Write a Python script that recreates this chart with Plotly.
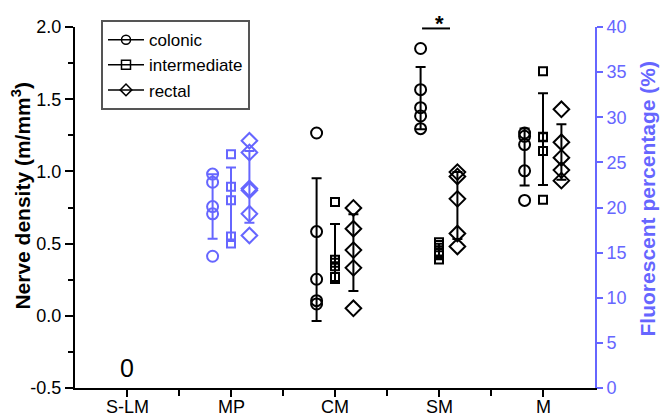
import numpy as np
import plotly.graph_objects as go

categories = ["S-LM", "MP", "CM", "SM", "M"]
series = ["colonic", "intermediate", "rectal"]
left_ticks = [-0.5, 0.0, 0.5, 1.0, 1.5, 2.0]
left_tick_labels = ["-0.5", "0.0", "0.5", "1.0", "1.5", "2.0"]

# MP values are fluorescent percentage (%) on the right axis
mp_colonic = [23.7, 22.8, 20.1, 19.3, 14.6]
mp_intermediate = [25.9, 22.3, 20.8, 16.8, 16.0]
mp_rectal = [27.4, 26.1, 22.1, 21.9, 19.3, 16.9]

# Nerve density (m/mm^3) on the left axis
cm_colonic = [1.266, 0.583, 0.253, 0.105, 0.082]
cm_intermediate = [0.788, 0.389, 0.367, 0.344, 0.269]
cm_rectal = [0.747, 0.603, 0.455, 0.332, 0.052]
sm_colonic = [1.851, 1.566, 1.441, 1.384, 1.296]
sm_intermediate = [0.51, 0.49, 0.44, 0.42, 0.39]
sm_rectal = [0.995, 0.965, 0.81, 0.57, 0.48]
m_colonic = [1.266, 1.243, 1.186, 1.004, 0.799]
m_intermediate = [1.694, 1.24, 1.236, 1.141, 0.804]
m_rectal = [1.430, 1.202, 1.095, 1.009, 0.936]

slm_label = "0"

BLUE = "#6666ff"
BLACK = "#000000"
FONT = "Liberation Sans, Arial, sans-serif"

symbols = {"colonic": "circle-open", "intermediate": "square-open", "rectal": "diamond-open"}
sizes = {"colonic": 11, "intermediate": 8, "rectal": 12}
offsets = {"colonic": -0.177, "intermediate": 0.0, "rectal": 0.177}

groups = [
    ("MP", "colonic", mp_colonic, "y2", BLUE),
    ("MP", "intermediate", mp_intermediate, "y2", BLUE),
    ("MP", "rectal", mp_rectal, "y2", BLUE),
    ("CM", "colonic", cm_colonic, "y", BLACK),
    ("CM", "intermediate", cm_intermediate, "y", BLACK),
    ("CM", "rectal", cm_rectal, "y", BLACK),
    ("SM", "colonic", sm_colonic, "y", BLACK),
    ("SM", "intermediate", sm_intermediate, "y", BLACK),
    ("SM", "rectal", sm_rectal, "y", BLACK),
    ("M", "colonic", m_colonic, "y", BLACK),
    ("M", "intermediate", m_intermediate, "y", BLACK),
    ("M", "rectal", m_rectal, "y", BLACK),
]

fig = go.Figure()

for cat, ser, vals, yax, col in groups:
    xc = categories.index(cat) + offsets[ser]
    arr = np.array(vals, dtype=float)
    mean = arr.mean()
    sd = arr.std(ddof=1)
    # error bar (mean +/- SD)
    fig.add_trace(go.Scatter(
        x=[xc], y=[mean], yaxis=yax, mode="markers",
        marker=dict(size=1, color="rgba(0,0,0,0)"),
        error_y=dict(type="data", array=[sd], visible=True, color=col, thickness=2, width=5),
        showlegend=False, hoverinfo="skip", cliponaxis=False,
    ))
    fig.add_trace(go.Scatter(
        x=[xc] * len(vals), y=vals, yaxis=yax, mode="markers",
        marker=dict(symbol=symbols[ser], size=sizes[ser], color=col, line=dict(width=2, color=col)),
        showlegend=False, cliponaxis=False,
    ))

for ser in series:
    fig.add_trace(go.Scatter(
        x=[None], y=[None], mode="lines+markers", name=ser,
        line=dict(color=BLACK, width=1.5),
        marker=dict(symbol=symbols[ser], size=9, color=BLACK, line=dict(width=1.5, color=BLACK)),
    ))

# category labels under the x axis (placed close to the axis as in the reference)
for i, cat in enumerate(categories):
    fig.add_annotation(x=i, y=0, xref="x", yref="paper", text=cat, showarrow=False,
                       yanchor="bottom", yshift=-31,
                       font=dict(family=FONT, size=18, color=BLACK))

# S-LM value label
fig.add_annotation(x=0, y=-0.36, text=slm_label, showarrow=False, xref="x", yref="y",
                   font=dict(family=FONT, size=25, color=BLACK))
# significance marker
fig.add_shape(type="line", x0=2.837, x1=3.106, y0=1.99, y1=1.99, xref="x", yref="y",
              line=dict(color=BLACK, width=2))
fig.add_annotation(x=3.0, y=1.99, text="<b>*</b>", showarrow=False, xref="x", yref="y", yanchor="bottom",
                   font=dict(family=FONT, size=22, color=BLACK), yshift=-10)

# page body has an 8px margin: the figure is sized so that it fills the 670x420 window
fig.update_layout(
    width=662, height=412,
    margin=dict(l=67, r=75, t=15, b=32),
    paper_bgcolor="white", plot_bgcolor="white",
    font=dict(family=FONT, size=18, color=BLACK),
    legend=dict(x=0.05, y=1.019, xanchor="left", yanchor="top",
                bordercolor="#555555", borderwidth=2, bgcolor="white",
                font=dict(family=FONT, size=17, color=BLACK),
                tracegroupgap=0, itemwidth=36),
    xaxis=dict(range=[-0.5, 4.5], tickmode="array", tickvals=list(range(len(categories))),
               showticklabels=False, showline=True, linecolor=BLACK, linewidth=2,
               ticks="outside", ticklen=7, tickwidth=2, tickcolor=BLACK,
               showgrid=False, zeroline=False, automargin=False,
               minor=dict(tickvals=[0.5, 1.5, 2.5, 3.5], ticks="outside", ticklen=6, tickwidth=2, tickcolor=BLACK)),
    yaxis=dict(range=[-0.5, 2.0], tickmode="array", tickvals=left_ticks, ticktext=left_tick_labels,
               showline=True, linecolor=BLACK, linewidth=2,
               ticks="outside", ticklen=8, tickwidth=2, tickcolor=BLACK,
               showgrid=False, zeroline=False, automargin=False,
               tickfont=dict(family=FONT, size=18, color=BLACK),
               minor=dict(tickmode="linear", tick0=0, dtick=0.25, ticks="outside", ticklen=5, tickwidth=2, tickcolor=BLACK),
               title=dict(text="&nbsp;&nbsp;&nbsp;&nbsp;<b>Nerve density (m/mm<sup>3</sup>)</b>",
                          font=dict(family=FONT, size=21, color=BLACK), standoff=2)),
    yaxis2=dict(range=[0, 40], dtick=5, overlaying="y", side="right",
                showline=True, linecolor=BLUE, linewidth=2,
                ticks="outside", ticklen=6, tickwidth=2, tickcolor=BLUE,
                showgrid=False, zeroline=False, automargin=False,
                tickfont=dict(family=FONT, size=18, color=BLUE),
                title=dict(text="&nbsp;&nbsp;&nbsp;<b>Fluorescent percentage (%)</b>",
                           font=dict(family=FONT, size=21, color=BLUE), standoff=15)),
)

fig.write_html("out.html")
